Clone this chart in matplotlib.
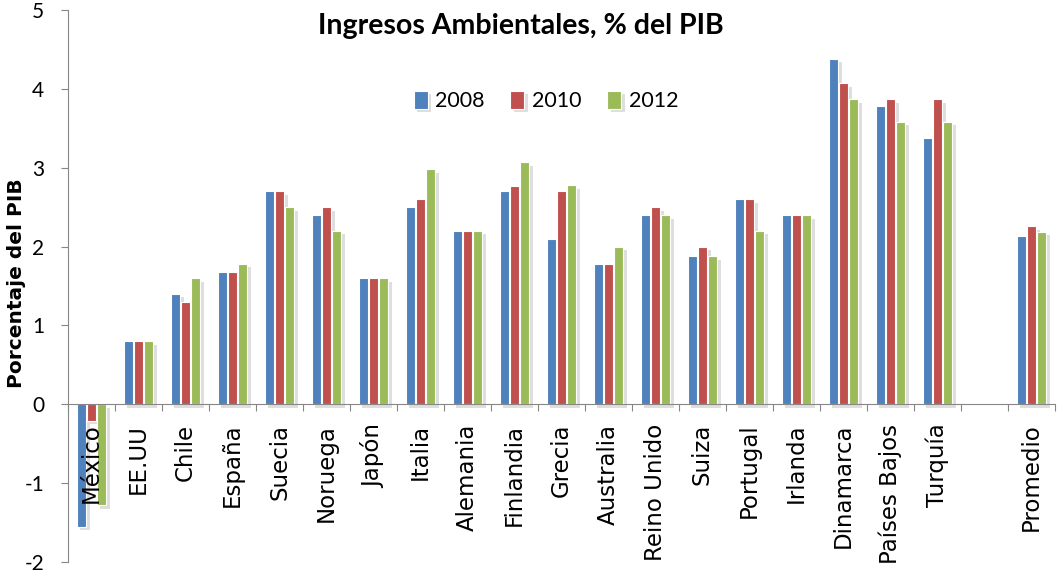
import matplotlib
matplotlib.use("Agg")
import matplotlib.pyplot as plt
import matplotlib.patheffects as pe
import numpy as np

categories = ["México", "EE.UU", "Chile", "España", "Suecia", "Noruega", "Japón",
              "Italia", "Alemania", "Finlandia", "Grecia", "Australia", "Reino Unido",
              "Suiza", "Portugal", "Irlanda", "Dinamarca", "Países Bajos", "Turquía",
              "", "Promedio"]
v2008 = [-1.55, 0.8, 1.4, 1.68, 2.7, 2.4, 1.6, 2.5, 2.2, 2.7, 2.1, 1.78, 2.4,
         1.88, 2.6, 2.4, 4.38, 3.78, 3.38, np.nan, 2.13]
v2010 = [-0.21, 0.8, 1.3, 1.68, 2.7, 2.5, 1.6, 2.6, 2.2, 2.77, 2.7, 1.78, 2.5,
         2.0, 2.6, 2.4, 4.07, 3.87, 3.87, np.nan, 2.26]
v2012 = [-1.28, 0.8, 1.6, 1.78, 2.5, 2.2, 1.6, 2.98, 2.2, 3.07, 2.78, 2.0, 2.4,
         1.88, 2.2, 2.4, 3.87, 3.58, 3.58, np.nan, 2.19]
series = [("2008", v2008, "#4F81BD"), ("2010", v2010, "#C0504D"), ("2012", v2012, "#9BBB59")]
yticks = [-2, -1, 0, 1, 2, 3, 4, 5]

plt.rcParams['axes.unicode_minus'] = False

fig = plt.figure(figsize=(10.57, 5.76), dpi=100)
ax = fig.add_axes([68/1057, 1 - 562/576, (1055-68)/1057, (562-10)/576])
ax.set_axisbelow(False)

x = np.arange(len(categories))
w = 0.205
gray = "#868686"
shadow = [pe.SimplePatchShadow(offset=(2.5, -2.5), shadow_rgbFace="#000000", alpha=0.13), pe.Normal()]
for k, (name, vals, col) in enumerate(series):
    bars = ax.bar(x + (k - 1) * 0.215, vals, width=w, color=col, edgecolor="white",
                  linewidth=0.8, label=name, zorder=1)
    for b in bars:
        b.set_path_effects(shadow)

ax.set_xlim(-0.5, len(categories) - 0.5)
ax.set_ylim(-2, 5)

for s in ["top", "right"]:
    ax.spines[s].set_visible(False)
ax.spines["bottom"].set_position(("data", 0))
ax.spines["bottom"].set_color(gray)
ax.spines["left"].set_color(gray)

ax.set_xticks(np.arange(len(categories) + 1) - 0.5)
ax.set_xticklabels([])
ax.tick_params(axis="x", which="major", length=5, color=gray, direction="out")
ax.set_xticks(x, minor=True)
ax.set_xticklabels(categories, minor=True, rotation=90, fontsize=16.5,
                   fontfamily="DejaVu Sans")
ax.tick_params(axis="x", which="minor", length=0, pad=14)

ax.set_yticks(yticks)
ax.set_yticklabels([str(t) for t in yticks], fontsize=15, fontfamily="Lato")
ax.tick_params(axis="y", length=5, color=gray, pad=12)

fig.text(17/1057, 1 - 283/576, "Porcentaje del PIB", rotation=90, fontsize=14.5,
         fontweight="bold", fontfamily="DejaVu Sans", ha="center", va="center")
fig.text(521/1057, 1 - 26/576, "Ingresos Ambientales, % del PIB", fontsize=20.5,
         fontweight="bold", fontfamily="Lato", ha="center", va="center")

leg = fig.legend(loc="center", bbox_to_anchor=(546/1057, 1 - 101/576), ncol=3,
                 frameon=False, handlelength=0.65, handleheight=0.9, handletextpad=0.35,
                 columnspacing=1.2, prop={"family": "Lato", "size": 15.5})

fig.savefig("out.png", dpi=100)
